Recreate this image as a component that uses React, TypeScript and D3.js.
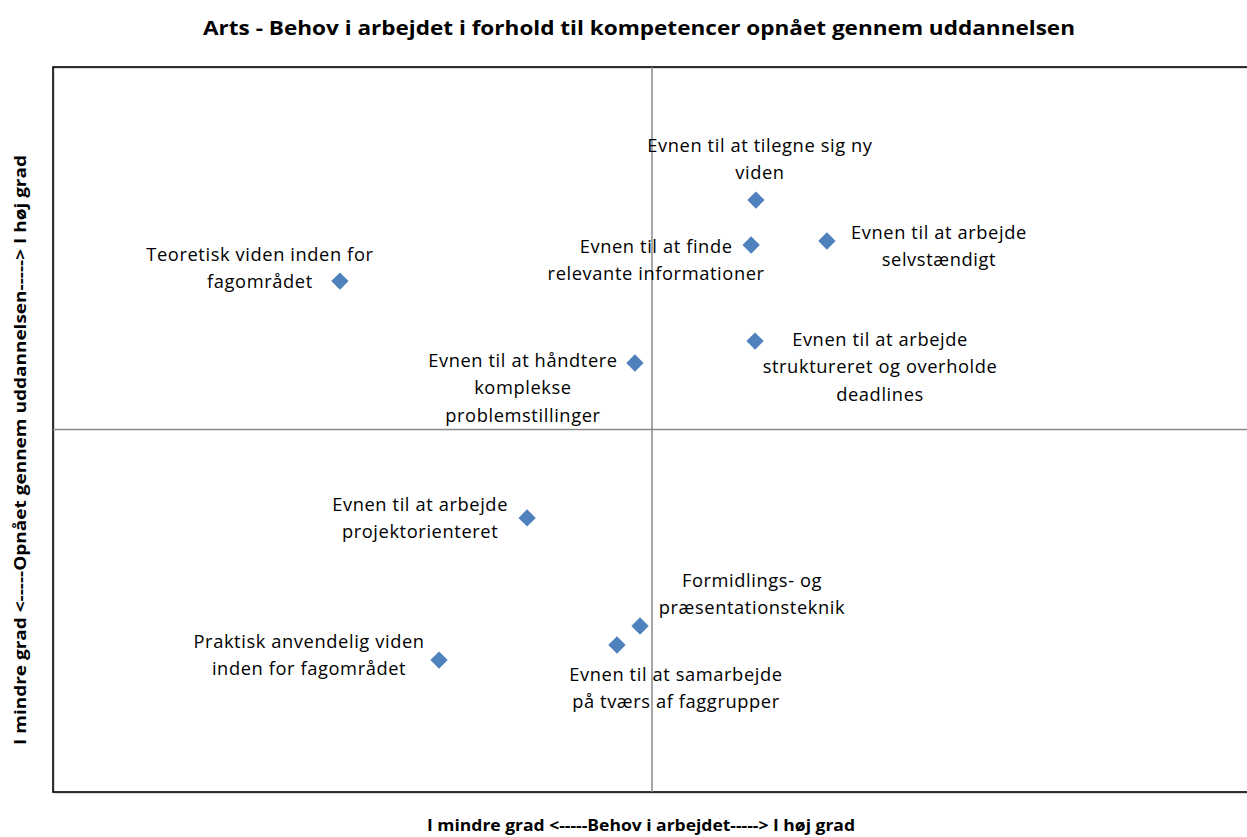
import React from 'react';
import * as d3 from 'd3';

const width = 1247;
const height = 837;
const plot = { left: 53, top: 67, right: 1251, bottom: 792 };

// competences, need in work (x) vs acquired through education (y)
const names = [
  ['Evnen til at tilegne sig ny', 'viden'],
  ['Evnen til at finde', 'relevante informationer'],
  ['Evnen til at arbejde', 'selvstændigt'],
  ['Teoretisk viden inden for', 'fagområdet'],
  ['Evnen til at arbejde', 'struktureret og overholde', 'deadlines'],
  ['Evnen til at håndtere', 'komplekse', 'problemstillinger'],
  ['Evnen til at arbejde', 'projektorienteret'],
  ['Formidlings- og', 'præsentationsteknik'],
  ['Evnen til at samarbejde', 'på tværs af faggrupper'],
  ['Praktisk anvendelig viden', 'inden for fagområdet'],
];
const behov = [3.347, 3.331, 3.584, 1.958, 3.344, 2.943, 2.583, 2.96, 2.883, 2.289];
const opnaaet = [4.266, 4.018, 4.04, 3.819, 3.488, 3.367, 2.512, 1.916, 1.811, 1.728];

// label placement relative to the marker
const labelPos = [
  [4, -53], [-95, 3], [112, -7], [-80, -25], [125, 0],
  [-112, -1], [-107, -12], [112, -44], [59, 31], [-130, -17],
];

const font = '"Open Sans", Lato, sans-serif';

export default function App() {
  const x = d3.scaleLinear().domain([1, 5]).range([plot.left, plot.right]);
  const y = d3.scaleLinear().domain([1, 5]).range([plot.bottom, plot.top]);
  const diamond = d3.symbol().type(d3.symbolSquare).size(150)();
  const lineH = 27.5;

  return (
    <svg width={width} height={height} style={{ position: 'absolute', left: 0, top: 0, background: '#fff' }}>
      <text x={639} y={30} textAnchor="middle" dominantBaseline="middle" fontFamily={font} fontWeight="bold" fontSize={19}
        textLength={872} lengthAdjust="spacingAndGlyphs">
        Arts - Behov i arbejdet i forhold til kompetencer opnået gennem uddannelsen
      </text>
      <rect x={plot.left + 1} y={plot.top + 1} width={plot.right - plot.left} height={plot.bottom - plot.top} fill="none" stroke="#bbb" strokeWidth={1} />
      <rect x={plot.left} y={plot.top} width={plot.right - plot.left} height={plot.bottom - plot.top} fill="none" stroke="#000" strokeWidth={1.6} />
      <line x1={x(3)} x2={x(3)} y1={plot.top} y2={plot.bottom} stroke="#888" strokeWidth={1.5} />
      <line x1={plot.left} x2={plot.right} y1={y(3)} y2={y(3)} stroke="#888" strokeWidth={1.5} />
      {names.map((lines, i) => {
        const px = x(behov[i]);
        const py = y(opnaaet[i]);
        const [dx, dy] = labelPos[i];
        return (
          <g key={i}>
            <path d={diamond} transform={`translate(${px},${py}) rotate(45)`} fill="#4F81BD" />
            <text textAnchor="middle" fontFamily={font} fontSize={18.3} letterSpacing={0.6} fill="#000">
              {lines.map((l, j) => (
                <tspan key={j} x={px + dx} y={py + dy + j * lineH} dominantBaseline="middle">{l}</tspan>
              ))}
            </text>
          </g>
        );
      })}
      <text x={641} y={827} textAnchor="middle" dominantBaseline="middle" fontFamily={font} fontWeight="bold" fontSize={16}
        textLength={428} lengthAdjust="spacingAndGlyphs">
        I mindre grad &lt;-----Behov i arbejdet-----&gt; I høj grad
      </text>
      <text transform="translate(22,450) rotate(-90)" textAnchor="middle" dominantBaseline="middle" fontFamily={font} fontWeight="bold" fontSize={16}
        textLength={590} lengthAdjust="spacingAndGlyphs">
        I mindre grad &lt;-----Opnået gennem uddannelsen-----&gt; I høj grad
      </text>
    </svg>
  );
}
